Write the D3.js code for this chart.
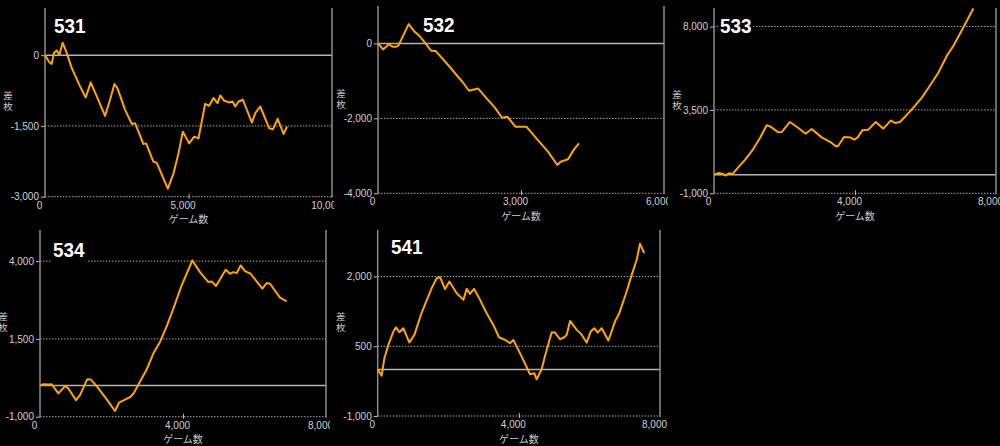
<!DOCTYPE html>
<html>
<head>
<meta charset="utf-8">
<script src="https://cdn.jsdelivr.net/npm/d3@7"></script>
<style>
  body { margin: 0; background: #000; }
  svg { display: block; }
</style>
</head>
<body>
<svg id="chart" width="1000" height="446"></svg>
<script>
// ゲーム数 / 差枚
const games531 = [0,151,233,314,407,500,616,756,930,1221,1419,1593,1802,2093,2267,2419,2523,2791,3023,3140,3256,3430,3523,3779,3895,4279,4477,4651,4802,5023,5198,5349,5581,5721,5872,6012,6105,6244,6430,6535,6628,6744,6895,7209,7326,7500,7814,7942,8105,8314,8430];
const diff531  = [0,-149,-185,50,100,7,263,50,-270,-661,-896,-576,-874,-1287,-945,-611,-697,-1159,-1457,-1443,-1621,-1884,-1870,-2261,-2282,-2829,-2509,-2083,-1621,-1870,-1727,-1763,-1031,-1073,-910,-1016,-853,-967,-1002,-981,-1088,-981,-945,-1429,-1230,-1088,-1550,-1571,-1351,-1671,-1514];

const games532 = [0,105,224,315,385,434,643,769,874,979,1119,1210,1329,1503,1678,1769,1909,2098,2259,2448,2601,2713,2881,3112,3322,3566,3762,3832,3986,4112,4217];
const diff532  = [0,-160,-27,-89,-89,-44,516,311,196,27,-196,-204,-373,-622,-889,-1022,-1262,-1200,-1440,-1707,-1982,-1956,-2222,-2222,-2533,-2889,-3244,-3156,-3093,-2827,-2667];

const games533 = [0,123,236,331,426,530,643,879,1087,1305,1494,1589,1825,1920,2156,2392,2600,2771,3054,3319,3461,3527,3688,3858,3981,4076,4208,4379,4587,4804,5012,5135,5277,5608,5891,6147,6364,6629,6790,7073,7357];
const diff533  = [0,90,60,-42,84,48,301,807,1313,1982,2669,2614,2289,2307,2850,2524,2217,2470,2018,1747,1530,1566,2036,2018,1892,2018,2398,2434,2850,2488,2922,2795,2850,3518,4151,4874,5506,6500,6952,7946,8976];

const games534 = [0,93,233,326,513,699,793,1007,1119,1324,1417,1585,1846,2098,2210,2406,2536,2629,2797,2984,3170,3357,3543,3730,3963,4103,4261,4476,4709,4802,4923,5194,5315,5408,5501,5613,5734,5892,6219,6340,6434,6713,6900];
const diff534  = [0,43,32,43,-252,-17,-92,-466,-306,207,197,-17,-412,-818,-551,-434,-359,-231,122,517,1030,1404,1906,2472,3220,3594,4021,3647,3327,3348,3199,3722,3594,3647,3615,3861,3679,3594,3113,3295,3273,2825,2707];

const games541 = [0,113,189,302,444,519,614,727,897,1039,1247,1530,1672,1766,1908,2031,2239,2428,2522,2616,2730,2900,3089,3277,3438,3608,3750,3844,4080,4316,4439,4505,4647,4741,4930,5024,5166,5289,5355,5450,5639,5761,5922,6035,6139,6233,6347,6536,6725,6847,7055,7178,7339,7433,7556];
const diff541  = [0,-131,242,529,816,909,801,888,579,744,1225,1749,1964,1986,1727,1892,1641,1498,1734,1627,1734,1498,1211,959,694,636,565,636,278,-103,-81,-210,5,292,801,794,651,694,744,1045,852,766,579,816,888,794,888,622,1031,1211,1677,1986,2359,2703,2502];

// tick labels
const xTicks531 = [0, 5000, 10000], yTicks531 = [-3000, -1500, 0];
const xTicks532 = [0, 3000, 6000],  yTicks532 = [-4000, -2000, 0];
const xTicks533 = [0, 4000, 8000],  yTicks533 = [-1000, 3500, 8000];
const xTicks534 = [0, 4000, 8000],  yTicks534 = [-1000, 1500, 4000];
const xTicks541 = [0, 4000, 8000],  yTicks541 = [-1000, 500, 2000];

const panels = [
  { name: '531', games: games531, diff: diff531, xTicks: xTicks531, yTicks: yTicks531, xMax: 10000, yDom: [-3000, 1000],
    box: { l: 45, r: 332, t: 8, b: 196.7 }, clip: [0, 0, 334, 226], title: [54, 33] },
  { name: '532', games: games532, diff: diff532, xTicks: xTicks532, yTicks: yTicks532, xMax: 6000, yDom: [-4000, 1000],
    box: { l: 378, r: 664, t: 6, b: 193.3 }, clip: [334, 0, 668, 226], title: [423, 32] },
  { name: '533', games: games533, diff: diff533, xTicks: xTicks533, yTicks: yTicks533, xMax: 8000, yDom: [-1000, 9000],
    box: { l: 714, r: 996, t: 8, b: 193.3 }, clip: [668, 0, 1000, 226], title: [720, 33] },
  { name: '534', games: games534, diff: diff534, xTicks: xTicks534, yTicks: yTicks534, xMax: 8000, yDom: [-1000, 5000],
    box: { l: 40, r: 326, t: 230, b: 416.7 }, clip: [0, 226, 330, 446], title: [53, 257] },
  { name: '541', games: games541, diff: diff541, xTicks: xTicks541, yTicks: yTicks541, xMax: 8000, yDom: [-1000, 3000],
    box: { l: 377.7, r: 660, t: 230, b: 416 }, clip: [330, 226, 670, 446], title: [391, 254] }
];

const fmt = d3.formatLocale({ decimal: '.', thousands: ',', grouping: [3], currency: ['', ''], minus: '-' }).format(',');
const tickFont = 'Liberation Sans, Arial, sans-serif';
const jpFont = 'Noto Sans CJK JP, sans-serif';

const svg = d3.select('#chart');
svg.append('rect').attr('width', 1000).attr('height', 446).attr('fill', '#000');
const defs = svg.append('defs');

panels.forEach((p, i) => {
  const [cx0, cy0, cx1, cy1] = p.clip;
  defs.append('clipPath').attr('id', 'clip' + i)
    .append('rect').attr('x', cx0).attr('y', cy0).attr('width', cx1 - cx0).attr('height', cy1 - cy0);

  const g = svg.append('g').attr('clip-path', `url(#clip${i})`);
  const b = p.box;
  const x = d3.scaleLinear().domain([0, p.xMax]).range([b.l, b.r]);
  const y = d3.scaleLinear().domain(p.yDom).range([b.b, b.t]);

  // grid lines
  g.append('g').selectAll('line')
    .data(p.yTicks.filter(v => v !== 0))
    .join('line')
    .attr('x1', b.l).attr('x2', b.r)
    .attr('y1', d => y(d)).attr('y2', d => y(d))
    .attr('stroke', '#a8a8a8').attr('stroke-width', 1)
    .attr('stroke-dasharray', '1.5,1.5');

  // zero line
  g.append('line')
    .attr('x1', b.l).attr('x2', b.r)
    .attr('y1', y(0)).attr('y2', y(0))
    .attr('stroke', '#b4b4b4').attr('stroke-width', 1.5);

  // left axis
  const yAxis = g.append('g')
    .attr('transform', `translate(${b.l},0)`)
    .call(d3.axisLeft(y).tickValues(p.yTicks).tickFormat(fmt).tickSize(4).tickPadding(2));
  yAxis.select('.domain').remove();
  yAxis.selectAll('.tick line').attr('stroke', '#bbb');
  yAxis.selectAll('.tick text').attr('fill', '#d0d0d0')
    .attr('font-family', tickFont).attr('font-size', 10);
  g.append('line')
    .attr('x1', b.l).attr('x2', b.l).attr('y1', b.t).attr('y2', b.b + 1)
    .attr('stroke', '#8c8c8c').attr('stroke-width', 1.5);

  // right border
  g.append('line')
    .attr('x1', b.r).attr('x2', b.r).attr('y1', b.t).attr('y2', b.b + 1)
    .attr('stroke', '#8c8c8c').attr('stroke-width', 1.5);

  // bottom axis
  const xAxis = g.append('g')
    .attr('transform', `translate(0,${b.b})`)
    .call(d3.axisBottom(x).tickValues(p.xTicks).tickFormat(fmt).tickSize(2).tickPadding(3));
  xAxis.select('.domain').remove();
  xAxis.selectAll('.tick line')
    .attr('y1', -3).attr('stroke', '#bbb')
    .style('display', d => (d === 0 || d === p.xMax) ? 'none' : null);
  xAxis.selectAll('.tick text').attr('fill', '#d0d0d0')
    .attr('font-family', tickFont).attr('font-size', 10)
    .attr('dx', -6);

  // axis titles
  g.append('text')
    .attr('x', (b.l + b.r) / 2).attr('y', b.b + 22)
    .attr('text-anchor', 'middle').attr('dominant-baseline', 'central')
    .attr('fill', '#c8c8c8').attr('font-family', jpFont).attr('font-size', 10)
    .text('ゲーム数');
  g.append('text')
    .attr('x', b.l - 37).attr('y', (b.t + b.b) / 2 - 3)
    .attr('text-anchor', 'middle')
    .attr('fill', '#c8c8c8').attr('font-family', jpFont).attr('font-size', 9.5)
    .selectAll('tspan').data(['差', '枚']).join('tspan')
    .attr('x', b.l - 37).attr('dy', (d, j) => j === 0 ? 0 : 11)
    .text(d => d);

  // data line
  const pts = p.games.map((gm, j) => [gm, p.diff[j]]);
  g.append('path')
    .datum(pts)
    .attr('fill', 'none')
    .attr('stroke', '#ffa500')
    .attr('stroke-width', 2)
    .attr('stroke-linejoin', 'round')
    .attr('d', d3.line().x(d => x(d[0])).y(d => y(d[1])));

  // machine number
  const t = g.append('text')
    .attr('transform', `translate(${p.title[0]},${p.title[1]}) scale(0.9,1)`)
    .attr('fill', '#fff').attr('font-family', 'Liberation Sans, Arial, sans-serif')
    .attr('font-weight', 'bold').attr('font-size', 21)
    .text(p.name);
  const bb = t.node().getBBox();
  g.insert('rect', () => t.node())
    .attr('x', p.title[0] - 2).attr('y', p.title[1] + bb.y - 1)
    .attr('width', bb.width * 0.9 + 4).attr('height', bb.height + 2)
    .attr('fill', '#000');
});
</script>
</body>
</html>
